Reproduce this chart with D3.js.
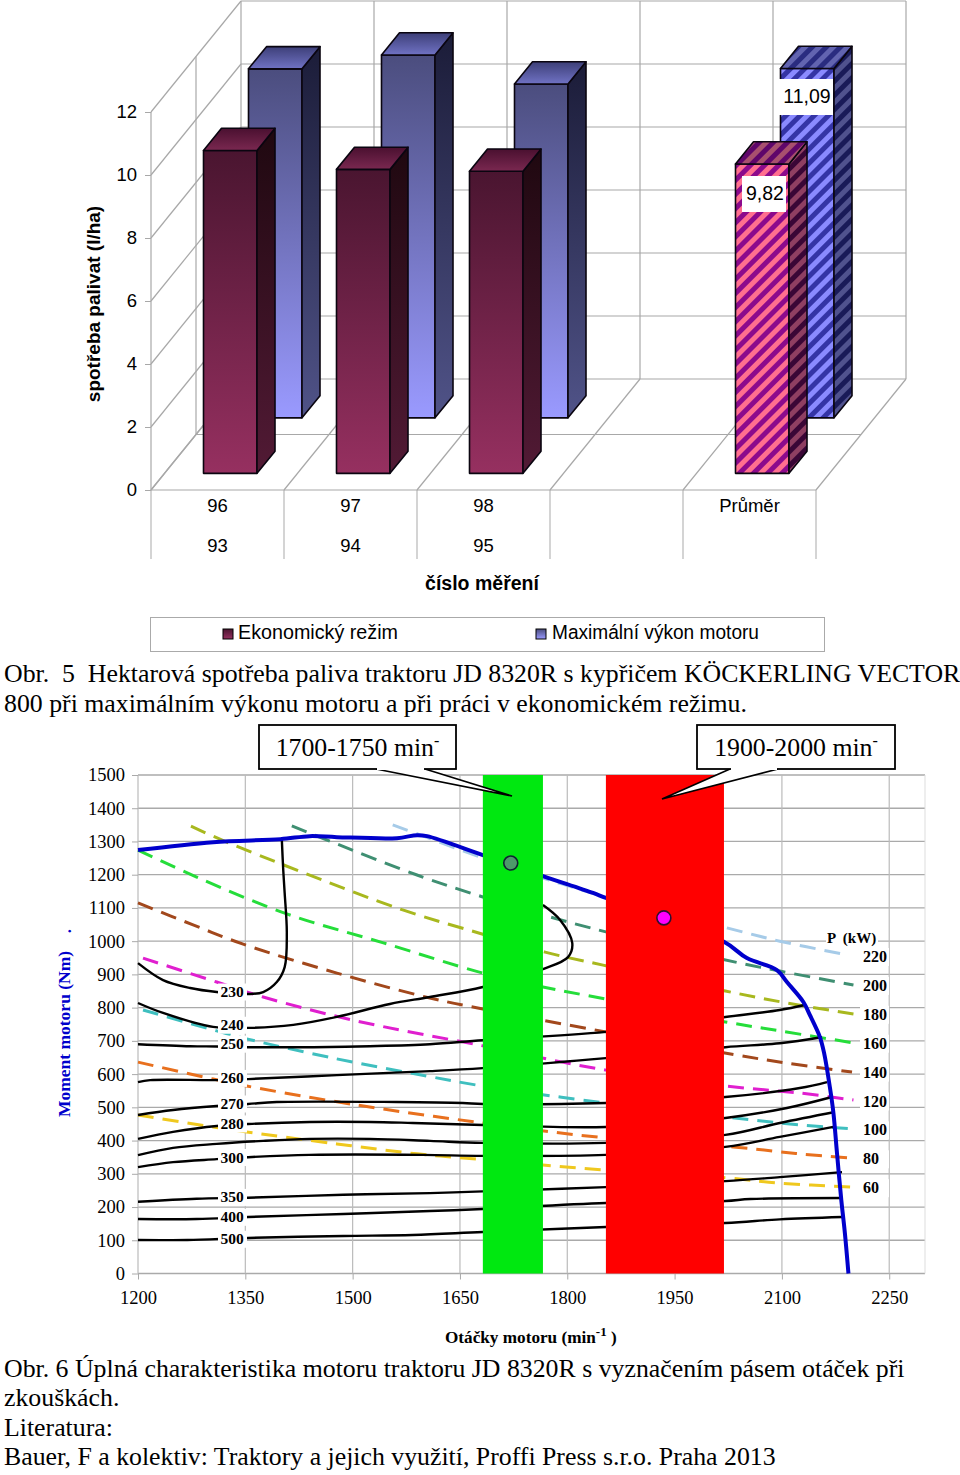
<!DOCTYPE html>
<html><head><meta charset="utf-8">
<script src="https://cdn.jsdelivr.net/npm/d3@7"></script>
<style>html,body{margin:0;padding:0;background:#fff}svg{display:block}text{fill:#000}</style>
</head><body><svg id="c" width="960" height="1475" xmlns="http://www.w3.org/2000/svg"></svg>
<script>
// ---------- Chart 1 data ----------
const groups = ["96","97","98","","Průměr"];
const groupsLow = ["93","94","95","",""];
const series1 = ["Ekonomický režim","Maximální výkon motoru"];
const econValues = [10.25,9.65,9.59,null,9.82];
const maxValues = [11.08,11.52,10.6,null,11.09];
const yTicks1 = [0,2,4,6,8,10,12];
const avgLabels = ["9,82","11,09"];

// ---------- Chart 2 data ----------
const xTicks2 = [1200,1350,1500,1650,1800,1950,2100,2250];
const yTicks2 = d3.range(0,1501,100);
const bandGreen = [1682,1766];
const bandRed = [1854,2019];
const pointGreen = [1721,1235];
const pointRed = [1935,1070];
const torqueMax = [[1200,1274],[1305,1298],[1399,1307],[1440,1316],[1478,1313],[1562,1310],[1590,1319],[1604,1316],[1682,1259],[1766,1196],[1836,1145],[1854,1130],[2019,998],[2051,949],[2093,913],[2107,877],[2130,817],[2139,778],[2153,712],[2159,663],[2167,561],[2172,483],[2177,362],[2183,221],[2188,122],[2193,0]];
const p220 = [[1556,1350],[1594,1320],[1682,1250],[1766,1190],[1854,1133],[2023,1040],[2097,1000],[2186,961]];
const p200 = [[1415,1347],[1468,1301],[1590,1199],[1682,1133],[1766,1079],[1854,1028],[2035,937],[2097,910],[2200,868]];
const p180 = [[1274,1346],[1324,1298],[1422,1214],[1570,1094],[1682,1021],[1769,967],[1850,928],[2021,850],[2107,814],[2200,781]];
const p160 = [[1200,1274],[1282,1193],[1408,1082],[1543,995],[1682,904],[1766,862],[1854,826],[2021,757],[2097,730],[2200,694]];
const p140 = [[1200,1115],[1277,1049],[1347,991],[1478,904],[1608,829],[1682,796],[1854,727],[2035,658],[2107,633],[2198,606]];
const p120 = [[1207,949],[1310,877],[1375,832],[1499,763],[1682,685],[1854,612],[2021,564],[2125,543],[2200,522]];
const p100 = [[1207,793],[1310,730],[1352,706],[1473,648],[1604,594],[1682,564],[1854,513],[2021,471],[2125,447],[2200,435]];
const p80 = [[1200,636],[1305,585],[1352,564],[1506,507],[1682,453],[1854,408],[2032,381],[2125,360],[2195,348]];
const p60 = [[1200,477],[1305,441],[1352,426],[1478,390],[1590,360],[1668,345],[1854,311],[2021,288],[2097,272],[2200,260]];
const powerCurves = [p220,p200,p180,p160,p140,p120,p100,p80,p60];
const powerColors = ["#a6cbe8","#3f8f72","#a8b81e","#25dd3a","#a2481c","#e01fcf","#3fbfbf","#e8701e","#efc81e"];
const powerLabels = ["220","200","180","160","140","120","100","80","60"];
const c230 = [[1200,934],[1235,883],[1273,859],[1310,847],[1354,841],[1375,847],[1394,877],[1405,922],[1408,1025],[1405,1145],[1403,1214],[1401,1307]];
const c240 = [[1200,814],[1235,784],[1305,742],[1354,739],[1417,748],[1478,772],[1552,811],[1608,832],[1682,862],[1766,916],[1801,952],[1807,994],[1790,1064],[1766,1109]];
const c250 = [[1200,690],[1273,684],[1310,683],[1354,681],[1445,681],[1524,684],[1608,690],[1682,702],[1854,727],[2021,772],[2097,793],[2132,808]];
const c260 = [[1200,576],[1217,582],[1310,582],[1354,585],[1478,597],[1608,609],[1682,618],[1854,648],[2021,681],[2097,693],[2156,711]];
const c270 = [[1200,477],[1249,492],[1310,504],[1354,510],[1394,516],[1562,516],[1654,513],[1682,510],[1854,513],[2021,531],[2125,558],[2163,576]];
const c280 = [[1200,405],[1249,426],[1310,444],[1354,450],[1440,456],[1524,456],[1584,453],[1682,447],[1854,441],[2021,468],[2107,498],[2170,531]];
const c290 = [[1200,356],[1249,378],[1310,390],[1375,399],[1440,405],[1524,405],[1608,399],[1682,393],[1854,393],[2021,417],[2097,453],[2174,486]];
const c300 = [[1200,320],[1249,335],[1310,344],[1354,350],[1440,357],[1598,357],[1682,354],[1854,357],[2021,381],[2097,411],[2172,441]];
const c350 = [[1200,216],[1282,225],[1354,228],[1487,237],[1608,242],[1682,247],[1854,260],[2021,278],[2097,290],[2184,305]];
const c400 = [[1200,164],[1282,164],[1354,170],[1487,179],[1608,188],[1682,194],[1854,212],[2021,218],[2056,224],[2184,227]];
const c500 = [[1200,101],[1269,101],[1354,107],[1487,113],[1584,116],[1682,125],[1854,140],[2021,152],[2097,163],[2184,170]];
const contours = [c230,c240,c250,c260,c270,c280,c290,c300,c350,c400,c500];
const contourLabels = [["230",847],["240",747],["250",690],["260",587],["270",510],["280",450],["300",349],["350",229],["400",169],["500",103]];

const SANS="'Liberation Sans',Arial,sans-serif", SERIF="'Liberation Serif','Times New Roman',serif";
const svg=d3.select("#c"), defs=svg.append("defs");
function grad(id,c0,c1){const g=defs.append("linearGradient").attr("id",id).attr("x1",0).attr("y1",0).attr("x2",0).attr("y2",1);
 g.append("stop").attr("offset",0).attr("stop-color",c0);g.append("stop").attr("offset",1).attr("stop-color",c1);}
function stripes(id,a,b){const p=defs.append("pattern").attr("id",id).attr("width",10).attr("height",10).attr("patternUnits","userSpaceOnUse").attr("patternTransform","rotate(45)");
 p.append("rect").attr("width",10).attr("height",10).attr("fill",a);p.append("rect").attr("width",5).attr("height",10).attr("fill",b);}
grad("f0","#4a1530","#963060");grad("s0","#1f0810","#521a35");grad("t0","#4a1030","#7a2850");
grad("f1","#4b4d7e","#9a9aff");grad("s1","#1b1c38","#505388");grad("t1","#3d3f78","#7072c4");
stripes("pf0","#8c0a8c","#ff6f8f");stripes("ps0","#3a0636","#8f3f62");stripes("pt0","#5f066a","#a8506e");
stripes("pf1","#3434a6","#8a8aff");stripes("ps1","#191a58","#50528e");stripes("pt1","#2a2c80","#6264b0");

// ---------- Chart 1: 3D columns ----------
const x1=d3.scaleBand().domain(d3.range(groups.length)).range([151,816]);
const y1=d3.scaleLinear().domain([0,12]).range([490,112]);
const z1=d3.scaleBand().domain(series1).range([0,1]).paddingInner(.6).paddingOuter(.3);
const DX=90,DY=111;
const proj=(x,v,z)=>[x+DX*z,y1(v)-DY*z];
const g1=svg.append("g");
const gridC="#a8a8a8";
function seg(g,a,b,col,w){g.append("line").attr("x1",a[0]).attr("y1",a[1]).attr("x2",b[0]).attr("y2",b[1]).attr("stroke",col||gridC).attr("stroke-width",w||1.2);}
const xEdges=x1.domain().map(i=>x1(i)).concat([816]);
yTicks1.forEach(v=>{seg(g1,proj(151,v,0),proj(151,v,1));seg(g1,proj(151,v,1),proj(816,v,1));});
xEdges.forEach(x=>{seg(g1,proj(x,0,0),proj(x,0,1));seg(g1,proj(x,0,1),proj(x,12,1));seg(g1,[x,490],[x,559],"#b8b8b8");});
seg(g1,proj(151,0,.5),proj(151,12,.5));
seg(g1,proj(151,0,.5),proj(816,0,.5));
seg(g1,proj(151,12,0),proj(151,0,0));
seg(g1,proj(151,0,0),proj(816,0,0));
const ax1=g1.append("g").attr("transform","translate(151,0)").call(d3.axisLeft(y1).tickValues(yTicks1).tickFormat(d3.format("d")).tickSize(6).tickPadding(8));
ax1.select(".domain").remove();ax1.selectAll("line").attr("stroke",gridC);
ax1.selectAll("text").attr("font-family",SANS).attr("font-size",18.5).attr("fill","#000");

function bar(g,i,val,s,si){
 const xL=x1(i)+39+0, w=53.5, z=z1(s), dz=z1.bandwidth();
 const P=(x,v,zz)=>proj(x,v,zz).join(",");
 const xa=xL,xb=xL+w;
 const avg=i===4; const fid=(avg?"url(#pf":"url(#f")+si+")", sid=(avg?"url(#ps":"url(#s")+si+")", tid=(avg?"url(#pt":"url(#t")+si+")";
 const front=[P(xa,0,z),P(xb,0,z),P(xb,val,z),P(xa,val,z)];
 const side=[P(xb,0,z),P(xb,0,z+dz),P(xb,val,z+dz),P(xb,val,z)];
 const top=[P(xa,val,z),P(xb,val,z),P(xb,val,z+dz),P(xa,val,z+dz)];
 [[front,fid],[side,sid],[top,tid]].forEach(([pts,f])=>g.append("polygon").attr("points",pts.join(" ")).attr("fill",f).attr("stroke","#0a0510").attr("stroke-width",1.6).attr("stroke-linejoin","round"));
}
maxValues.forEach((v,i)=>{if(v!=null)bar(g1,i,v,series1[1],1);});
econValues.forEach((v,i)=>{if(v!=null)bar(g1,i,v,series1[0],0);});
function lab(g,t,x,y,size,fam,opts){opts=opts||{};const e=g.append("text").attr("x",x).attr("y",y).attr("font-family",fam).attr("font-size",size).attr("text-anchor",opts.anchor||"start").attr("dominant-baseline",opts.base||"auto");
 if(opts.bold)e.attr("font-weight","bold");if(opts.fill)e.style("fill",opts.fill);if(opts.rot!=null)e.attr("transform",`rotate(${opts.rot} ${x} ${y})`);if(opts.len)e.attr("textLength",opts.len).attr("lengthAdjust","spacingAndGlyphs");e.text(t);return e;}
// average value labels
g1.append("rect").attr("x",742).attr("y",176).attr("width",44).attr("height",36).attr("fill","#fff");
lab(g1,avgLabels[0],765,199.5,19.5,SANS,{anchor:"middle"});
g1.append("rect").attr("x",779).attr("y",79).attr("width",54).attr("height",36).attr("fill","#fff");
lab(g1,avgLabels[1],807,102.5,19.5,SANS,{anchor:"middle"});
groups.forEach((t,i)=>{const cx=x1(i)+x1.bandwidth()/2;
 lab(g1,t,cx,512,18.5,SANS,{anchor:"middle"});
 lab(g1,groupsLow[i],cx,552,18.5,SANS,{anchor:"middle"});});
lab(g1,"spotřeba palivat (l/ha)",100,304,19,SANS,{anchor:"middle",bold:true,rot:-90});
lab(g1,"číslo měření",482,590,19.5,SANS,{anchor:"middle",bold:true});
g1.append("rect").attr("x",150.5).attr("y",617.5).attr("width",674).attr("height",34).attr("fill","#fff").attr("stroke","#aaa");
[[223,238,"f0",series1[0],160],[536,552,"f1",series1[1],207]].forEach(([mx,tx,id,t,len])=>{
 g1.append("rect").attr("x",mx).attr("y",629).attr("width",10).attr("height",10).attr("fill",`url(#${id})`).attr("stroke","#000");
 lab(g1,t,tx,639,19.3,SANS,{len});});

// captions
const caps=[["Obr.  5  Hektarová spotřeba paliva traktoru JD 8320R s kypřičem KÖCKERLING VECTOR",682],["800 při maximálním výkonu motoru a při práci v ekonomickém režimu.",712],
["Obr. 6 Úplná charakteristika motoru traktoru JD 8320R s vyznačením pásem otáček při",1377],["zkouškách.",1406],["Literatura:",1436],["Bauer, F a kolektiv: Traktory a jejich využití, Proffi Press s.r.o. Praha 2013",1465]];
caps.forEach(([t,y])=>lab(svg,t,4,y,25.8,SERIF).style("white-space","pre"));

// ---------- Chart 2 ----------
const x2=d3.scaleLinear().domain([1200,2300]).range([138,925]);
const y2=d3.scaleLinear().domain([0,1500]).range([1273.5,775]);
const g2=svg.append("g");
yTicks2.forEach(v=>g2.append("line").attr("x1",x2(1200)).attr("x2",x2(2300)).attr("y1",y2(v)).attr("y2",y2(v)).attr("stroke","#aaa").attr("stroke-width",1.3));
xTicks2.forEach(v=>g2.append("line").attr("x1",x2(v)).attr("x2",x2(v)).attr("y1",y2(0)).attr("y2",y2(1500)).attr("stroke","#bbb").attr("stroke-width",1.2));
g2.append("line").attr("x1",x2(2300)).attr("x2",x2(2300)).attr("y1",y2(0)).attr("y2",y2(1500)).attr("stroke","#ddd");
const ax=g2.append("g").attr("transform",`translate(138,0)`).call(d3.axisLeft(y2).tickValues(yTicks2).tickFormat(d3.format("d")).tickSize(6).tickPadding(7));
const bx=g2.append("g").attr("transform",`translate(0,${y2(0)})`).call(d3.axisBottom(x2).tickValues(xTicks2).tickFormat(d3.format("d")).tickSize(6).tickPadding(11));
[ax,bx].forEach(a=>{a.select(".domain").remove();a.selectAll("line").attr("stroke","#aaa");a.selectAll("text").attr("font-family",SERIF).attr("font-size",18.5).attr("fill","#000");});
const lineRaw=d3.line().x(d=>x2(d[0])).y(d=>y2(d[1])).curve(d3.curveCatmullRom.alpha(.5));
powerCurves.forEach((c,i)=>g2.append("path").attr("d",lineRaw(c)).attr("fill","none").attr("stroke",powerColors[i]).attr("stroke-width",3).attr("stroke-dasharray","16 9"));
contours.forEach(c=>g2.append("path").attr("d",lineRaw(c)).attr("fill","none").attr("stroke","#000").attr("stroke-width",2.4));
g2.append("path").attr("d",lineRaw(torqueMax)).attr("fill","none").attr("stroke","#0000cc").attr("stroke-width",4);
// contour labels
contourLabels.forEach(([t,v])=>{const cy=y2(v);
 g2.append("rect").attr("x",218).attr("y",cy-8.5).attr("width",29).attr("height",17).attr("fill","#fff");
 lab(g2,t,232,cy+5,15.5,SERIF,{anchor:"middle",bold:true});});
// operating bands
[[bandGreen,"#00e810"],[bandRed,"#ff0000"]].forEach(([b,col])=>g2.append("rect").attr("x",x2(b[0])).attr("y",y2(1500)).attr("width",x2(b[1])-x2(b[0])).attr("height",y2(0)-y2(1500)).attr("fill",col));
// power labels
g2.append("rect").attr("x",826).attr("y",930).attr("width",52).attr("height",15).attr("fill","#fff");
lab(g2,"P  (kW)",827,943,15,SERIF,{bold:true}).style("white-space","pre");
powerLabels.forEach((t,i)=>{const cy=957+i*28.9;
 g2.append("rect").attr("x",860).attr("y",cy-9).attr("width",29).attr("height",18).attr("fill","#fff");
 lab(g2,t,863,cy+5,16,SERIF,{bold:true});});
// markers
g2.append("circle").attr("cx",x2(pointGreen[0])).attr("cy",y2(pointGreen[1])).attr("r",7).attr("fill","#4c9a6a").attr("stroke","#123").attr("stroke-width",1.6);
g2.append("circle").attr("cx",x2(pointRed[0])).attr("cy",y2(pointRed[1])).attr("r",7).attr("fill","#ff00ff").attr("stroke","#301030").attr("stroke-width",1.6);
// callouts
function callout(bx0,by0,bx1,by1,b0,b1,tipX,tipY,txt){
 const pts=[[b0,by1],[tipX,tipY],[b1,by1]];
 g2.append("polygon").attr("points",pts.join(" ")).attr("fill","#fff");
 g2.append("polyline").attr("points",pts.join(" ")).attr("fill","none").attr("stroke","#000").attr("stroke-width",1.6);
 g2.append("rect").attr("x",bx0).attr("y",by0).attr("width",bx1-bx0).attr("height",by1-by0).attr("fill","#fff").attr("stroke","#000").attr("stroke-width",1.8);
 g2.append("line").attr("x1",b0+1).attr("x2",b1-1).attr("y1",by1).attr("y2",by1).attr("stroke","#fff").attr("stroke-width",2);
 const t=lab(g2,txt,(bx0+bx1)/2,755.5,25.8,SERIF,{anchor:"middle"});
 t.append("tspan").attr("dy",-10).attr("font-size",16).text("-");
}
callout(259,725,456,769,376,425,512,796,"1700-1750 min");
callout(697,725,895,769,730,778,662,799,"1900-2000 min");
// titles
lab(g2,"Moment motoru (Nm)",70,1034,17.5,SERIF,{anchor:"middle",bold:true,rot:-90,fill:"#0000cc"});
lab(g2,".",71,931,17,SERIF,{anchor:"middle",bold:true,rot:-90,fill:"#0000cc"});
const tt=lab(g2,"Otáčky motoru (min",445,1343,17.2,SERIF,{bold:true});
tt.append("tspan").attr("dy",-7).attr("font-size",13).text("-1");
tt.append("tspan").attr("dy",7).text(" )");
</script></body></html>
